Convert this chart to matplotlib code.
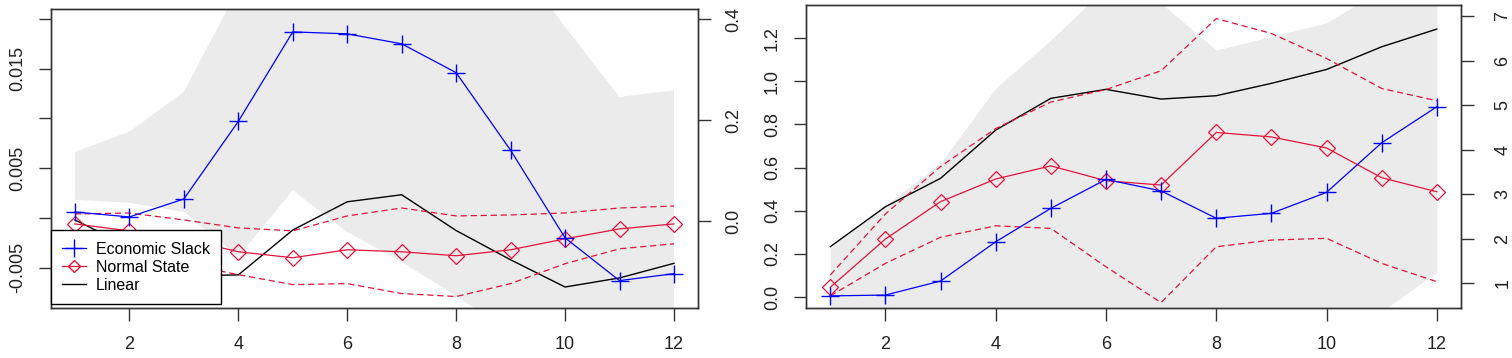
import matplotlib.pyplot as plt
from matplotlib.lines import Line2D

plt.rcParams['font.family'] = ['Liberation Sans', 'DejaVu Sans']

horizon = list(range(1, 13))
x_ticks = [2, 4, 6, 8, 10, 12]

# ---- left panel, left axis ----
slack_a = [0.0006, 0.0001, 0.0019, 0.0097, 0.0187, 0.0185, 0.0175, 0.0146, 0.0068, -0.0020, -0.0063, -0.0056]
normal_a = [-0.0006, -0.0013, -0.0021, -0.0034, -0.0040, -0.0032, -0.0034, -0.0038, -0.0032, -0.0021, -0.0011, -0.0006]
normal_up_a = [0.0004, 0.0005, -0.0002, -0.0010, -0.0013, 0.0002, 0.0010, 0.0002, 0.0003, 0.0005, 0.0010, 0.0012]
normal_lo_a = [-0.0014, -0.0027, -0.0046, -0.0057, -0.0067, -0.0066, -0.0076, -0.0079, -0.0066, -0.0046, -0.0031, -0.0026]
# ---- left panel, right axis ----
linear_a = [0.002, -0.051, -0.109, -0.107, -0.018, 0.038, 0.052, -0.019, -0.077, -0.131, -0.113, -0.084]
band_up_a = [0.137, 0.177, 0.256, 0.461, 0.60, 0.65, 0.65, 0.60, 0.53, 0.385, 0.246, 0.259]
band_lo_a = [0.042, 0.036, 0.018, -0.071, 0.061, -0.022, -0.081, -0.149, -0.22, -0.25, -0.24, -0.22]

# ---- right panel, left axis ----
slack_b = [0.005, 0.009, 0.074, 0.256, 0.411, 0.545, 0.492, 0.365, 0.388, 0.485, 0.715, 0.882]
normal_b = [0.045, 0.269, 0.442, 0.547, 0.608, 0.539, 0.519, 0.763, 0.742, 0.691, 0.553, 0.488]
normal_up_b = [0.102, 0.385, 0.605, 0.781, 0.904, 0.962, 1.049, 1.291, 1.222, 1.106, 0.967, 0.910]
normal_lo_b = [0.005, 0.156, 0.277, 0.330, 0.318, 0.140, -0.026, 0.233, 0.264, 0.272, 0.156, 0.071]
# ---- right panel, right axis ----
linear_b = [1.816, 2.715, 3.353, 4.438, 5.151, 5.353, 5.135, 5.210, 5.488, 5.800, 6.310, 6.708]
band_up_b = [1.787, 2.75, 3.70, 5.38, 6.46, 7.65, 7.29, 6.236, 6.54, 6.85, 7.6, 7.8]
band_lo_b = [0.2, 0.1, 0.0, 0.0, 0.0, 0.0, 0.0, 0.0, 0.0, 0.2, 0.358, 1.247]

RED = '#e0143c'
BAND = '#ebebeb'
SPINE = '#333333'

fig = plt.figure(figsize=(15.12, 3.58), dpi=100)


def panel(rect, slack, normal, n_up, n_lo, linear, b_up, b_lo,
          ylim1, ylim2, yt1, yl1, yt2, yl2, pad2):
    ax = fig.add_axes(rect)
    ax2 = ax.twinx()
    # put the left-axis series above the band on the twin axis
    ax.set_zorder(ax2.get_zorder() + 1)
    ax.patch.set_visible(False)

    ax2.fill_between(horizon, b_lo, b_up, color=BAND, lw=0)
    ax2.plot(horizon, linear, color='black', lw=1.0)

    ax.plot(horizon, n_up, color=RED, lw=0.9, ls=(0, (5, 3)))
    ax.plot(horizon, n_lo, color=RED, lw=0.9, ls=(0, (5, 3)))
    ax.plot(horizon, normal, color=RED, lw=0.9, marker='D', ms=8.5,
            mfc='none', mec=RED, mew=0.9)
    ax.plot(horizon, slack, color='blue', lw=0.9, marker='+', ms=13, mew=1.0)

    ax.set_xlim(0.56, 12.44)
    ax.set_ylim(*ylim1)
    ax2.set_ylim(*ylim2)
    ax.set_xticks(x_ticks)
    ax.set_yticks(yt1)
    ax.set_yticklabels(yl1, rotation=90, va='center')
    ax2.set_yticks(yt2)
    ax2.set_yticklabels(yl2, rotation=90, va='center')

    for a in (ax, ax2):
        for s in a.spines.values():
            s.set_color(SPINE)
            s.set_linewidth(1.0)
        a.tick_params(length=9, width=1.0, color=SPINE, labelsize=13,
                      labelcolor='#222222')
    ax.tick_params(axis='x', pad=11)
    ax.tick_params(axis='y', pad=9)
    ax2.tick_params(axis='y', pad=pad2)
    return ax


ax_a = panel([0.0337, 0.1397, 0.4279, 0.8352], slack_a, normal_a, normal_up_a,
             normal_lo_a, linear_a, band_up_a, band_lo_a,
             (-0.00905, 0.0210), (-0.1726, 0.4204),
             [-0.005, 0.0, 0.005, 0.01, 0.015, 0.02],
             ['-0.005', '', '0.005', '', '0.015', ''],
             [0.0, 0.2, 0.4], ['0.0', '0.2', '0.4'], 11)

ax_b = panel([0.5331, 0.1397, 0.4332, 0.8464], slack_b, normal_b, normal_up_b,
             normal_lo_b, linear_b, band_up_b, band_lo_b,
             (-0.051, 1.354), (0.438, 7.25),
             [0.0, 0.2, 0.4, 0.6, 0.8, 1.0, 1.2],
             ['0.0', '0.2', '0.4', '0.6', '0.8', '1.0', '1.2'],
             [1, 2, 3, 4, 5, 6, 7], ['1', '2', '3', '4', '5', '6', '7'], 15)

handles = [
    Line2D([], [], color='blue', lw=0.9, marker='+', ms=13, mew=1.0),
    Line2D([], [], color=RED, lw=0.9, marker='D', ms=6, mfc='none', mec=RED),
    Line2D([], [], color='black', lw=1.0),
]
leg = ax_a.legend(handles, ['Economic Slack', 'Normal State', 'Linear'],
                  loc='lower left', bbox_to_anchor=(0.0, 0.013),
                  fontsize=11.5, frameon=True, fancybox=False,
                  borderpad=0.7, labelspacing=0.2, handlelength=1.5,
                  handletextpad=0.6, borderaxespad=0.0)
leg.get_frame().set_edgecolor('black')
leg.get_frame().set_linewidth(1.0)
leg.get_frame().set_alpha(1.0)

fig.savefig('out.png', dpi=100)
